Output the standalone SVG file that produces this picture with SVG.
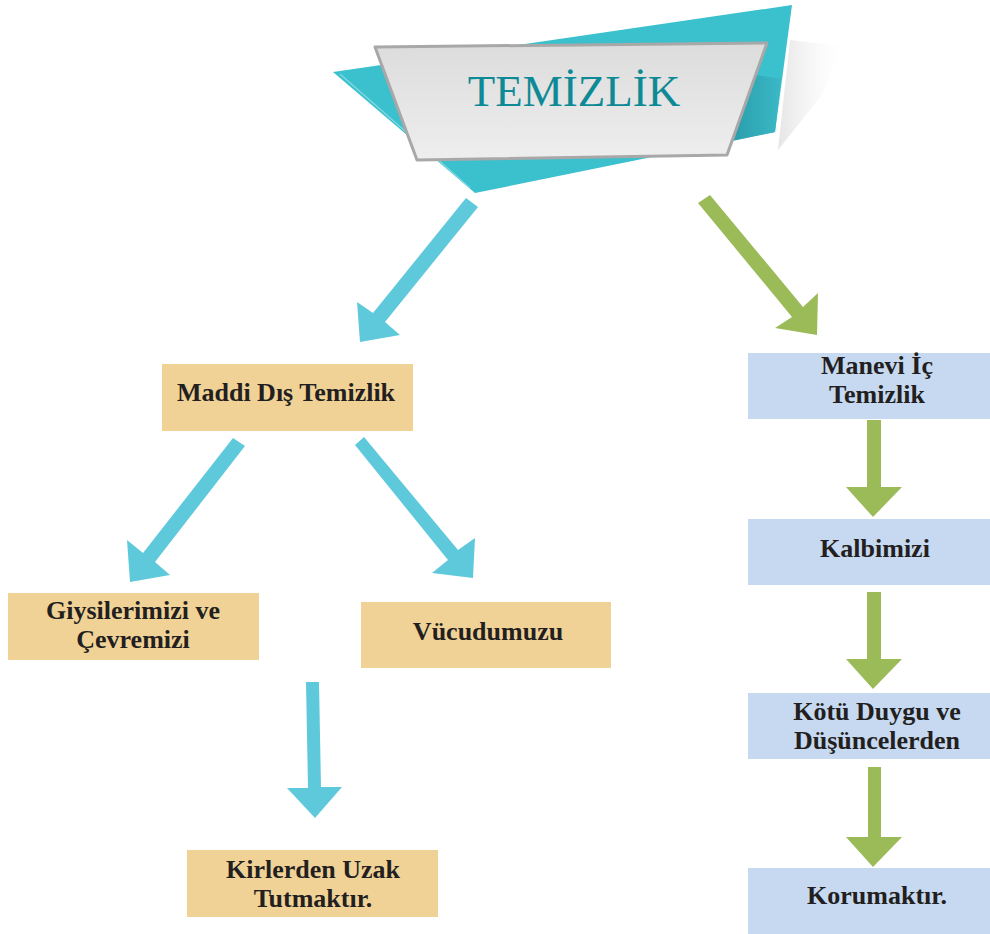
<svg xmlns="http://www.w3.org/2000/svg" width="990" height="934" viewBox="0 0 990 934">
<defs>
<linearGradient id="gbox" x1="0" y1="0" x2="0" y2="1">
<stop offset="0" stop-color="#dcdcdc"/>
<stop offset="1" stop-color="#eeeeee"/>
</linearGradient>
<linearGradient id="shadow" x1="0" y1="0" x2="1" y2="0">
<stop offset="0" stop-color="#d0d0d0" stop-opacity="0.55"/>
<stop offset="1" stop-color="#f0f0f0" stop-opacity="0"/>
</linearGradient>
<linearGradient id="fold" x1="0" y1="0" x2="1" y2="0">
<stop offset="0" stop-color="#2a9eab"/>
<stop offset="1" stop-color="#3bb8c6"/>
</linearGradient>
</defs>
<style>
.tan{fill:#f1d296}
.blue{fill:#c6d9f1}
.ab{fill:#5fc9dc}
.ag{fill:#9bbb59}
.t{font-family:"Liberation Serif","Times New Roman",serif;font-weight:bold;font-size:26px;fill:#231f20;text-anchor:middle}
</style>

<g id="title">
<polygon points="790,40 842,46 822,95 778,150" fill="url(#shadow)"/>
<polygon points="333,72 792,5 775,132 475,193" fill="#3bc0cd"/>
<polygon points="756,75 781,79 775,132 732,141" fill="url(#fold)"/>
<line x1="340" y1="74" x2="470" y2="188" stroke="#7fd8e0" stroke-width="1.5"/>
<polygon points="375,47 767,43 727,155 417,160" fill="url(#gbox)" stroke="#a8a8a8" stroke-width="3" stroke-linejoin="round"/>
<text x="574" y="106" font-family="Liberation Serif,'Times New Roman',serif" font-size="45" fill="#0d8a95" text-anchor="middle">TEMİZLİK</text>
</g>

<g id="connectors">
<polygon class="ab" points="466,198 478,207 385,322 400,335 360,342 357,302 373,313"/>
<polygon class="ag" points="698,203 710,195 803,307 818,293 817,335 775,328 792,317"/>
<polygon class="ab" points="233,438 245,446 155,562 170,575 130,582 127,540 143,553"/>
<polygon class="ab" points="355,445 364,437 458,550 475,538 473,578 432,573 448,560"/>
<polygon class="ab" points="306,682 319,682 321,787 342,787 315,818 287,788 308,788"/>
<polygon class="ag" points="867,420 881,420 881,487 902,487 873,517 846,487 867,487"/>
<polygon class="ag" points="867,592 881,592 881,659 902,659 873,689 846,659 867,659"/>
<polygon class="ag" points="868,767 881,767 881,837 902,837 873,867 846,837 868,837"/>
</g>

<g id="maddi">
<rect class="tan" x="162" y="364" width="251" height="67"/>
<text class="t" x="286" y="401">Maddi Dış Temizlik</text>
</g>
<g id="manevi">
<rect class="blue" x="748" y="353" width="242" height="66"/>
<text class="t" x="877" y="374">Manevi İç<tspan x="877" dy="29">Temizlik</tspan></text>
</g>
<g id="giysi">
<rect class="tan" x="8" y="593" width="251" height="67"/>
<text class="t" x="133" y="619">Giysilerimizi ve<tspan x="133" dy="29">Çevremizi</tspan></text>
</g>
<g id="vucud">
<rect class="tan" x="361" y="602" width="250" height="66"/>
<text class="t" x="488" y="640">Vücudumuzu</text>
</g>
<g id="kirler">
<rect class="tan" x="187" y="850" width="251" height="67"/>
<text class="t" x="313" y="878">Kirlerden Uzak<tspan x="313" dy="29">Tutmaktır.</tspan></text>
</g>
<g id="kalb">
<rect class="blue" x="748" y="519" width="242" height="66"/>
<text class="t" x="875" y="557">Kalbimizi</text>
</g>
<g id="kotu">
<rect class="blue" x="748" y="693" width="242" height="66"/>
<text class="t" x="877" y="720">Kötü Duygu ve<tspan x="877" dy="29">Düşüncelerden</tspan></text>
</g>
<g id="koruma">
<rect class="blue" x="748" y="868" width="242" height="66"/>
<text class="t" x="877" y="904">Korumaktır.</text>
</g>
</svg>
